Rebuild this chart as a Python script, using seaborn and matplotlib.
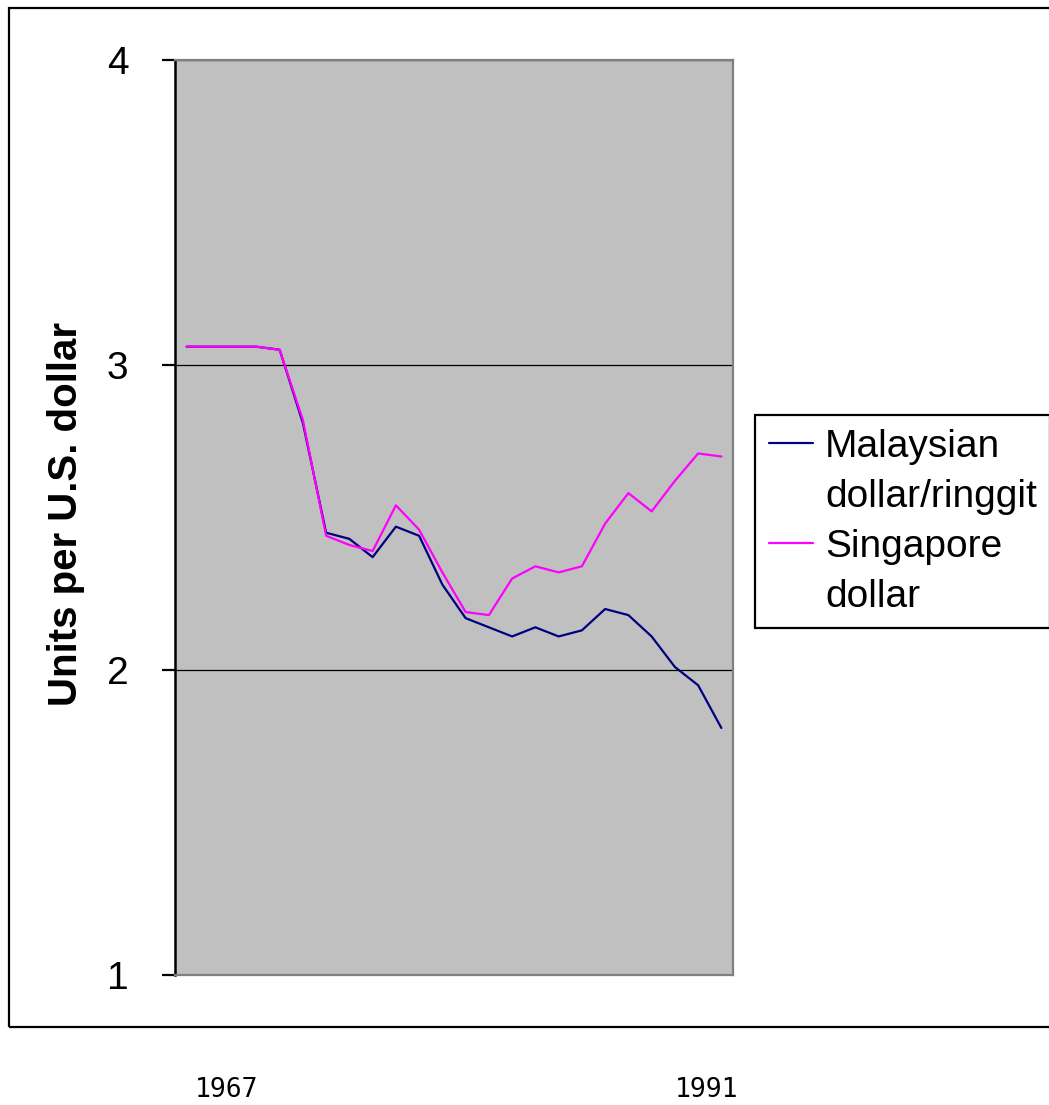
import matplotlib
matplotlib.use("Agg")
import matplotlib.pyplot as plt
import seaborn as sns
import pandas as pd
from matplotlib.lines import Line2D
from matplotlib.patches import Rectangle

# Exchange rates, units per U.S. dollar
years = list(range(1967, 1991))
malaysia = [3.06, 3.06, 3.06, 3.06, 3.05, 2.81, 2.45, 2.43, 2.37, 2.47, 2.44, 2.28,
            2.17, 2.14, 2.11, 2.14, 2.11, 2.13, 2.20, 2.18, 2.11, 2.01, 1.95, 1.81]
singapore = [3.06, 3.06, 3.06, 3.06, 3.05, 2.82, 2.44, 2.41, 2.39, 2.54, 2.46, 2.32,
             2.19, 2.18, 2.30, 2.34, 2.32, 2.34, 2.48, 2.58, 2.52, 2.62, 2.71, 2.70]
year_labels = ["1967", "1991"]
series_names = ["Malaysian dollar/ringgit", "Singapore dollar"]

df = pd.DataFrame({
    "idx": list(range(len(years))) * 2,
    "rate": malaysia + singapore,
    "series": [series_names[0]] * len(years) + [series_names[1]] * len(years),
})

sns.set_style("white")
plt.rcParams['font.family'] = ['Liberation Sans', 'DejaVu Sans']
plt.rcParams['text.color'] = 'black'
plt.rcParams['axes.labelcolor'] = 'black'
plt.rcParams['ytick.color'] = 'black'
plt.rcParams['ytick.labelcolor'] = 'black'

fig = plt.figure(figsize=(10.49, 11.05), dpi=100)
ax = fig.add_axes([175 / 1049, 1 - 975 / 1105, 558 / 1049, 915 / 1105])

navy = "#000080"
magenta = "#FF00FF"
sns.lineplot(data=df, x="idx", y="rate", hue="series", hue_order=series_names,
             palette={series_names[0]: navy, series_names[1]: magenta},
             linewidth=1.6, legend=False, ax=ax)

ax.set_facecolor("#C0C0C0")
ax.set_xlim(-0.5, len(years) - 0.5)
ax.set_ylim(1, 4)
ax.set_yticks([1, 2, 3, 4])
ax.set_xticks([])
ax.set_xlabel("")
ax.yaxis.grid(True, color="black", linewidth=0.9)
ax.set_axisbelow(True)

for side in ["top", "right", "bottom"]:
    ax.spines[side].set_color("#808080")
    ax.spines[side].set_linewidth(1.6)
ax.spines["left"].set_color("black")
ax.spines["left"].set_linewidth(1.8)

ax.tick_params(axis="y", direction="out", length=9.5, width=1.6, pad=24,
               labelsize=28, colors="black", left=True)

ax.set_ylabel("Units per U.S. dollar", fontsize=29, fontweight="bold", color="black")
ax.yaxis.label.set_va("center")
ax.yaxis.set_label_coords((66 - 175) / 558, (975 - 514) / 915)

# legend: each label on two lines, handle level with the first line
l1, l2 = ax.lines[0], ax.lines[1]
blank = Line2D([], [], color="none")
leg = fig.legend([l1, blank, l2, blank],
                 ["Malaysian", "dollar/ringgit", "Singapore", "dollar"],
                 loc="upper left", bbox_to_anchor=(755 / 1049, 1 - 415 / 1105),
                 fontsize=28, handlelength=1.15, handletextpad=0.3,
                 borderpad=0.35, labelspacing=0.36, borderaxespad=0,
                 fancybox=False, frameon=True, edgecolor="black", framealpha=1)
leg.get_frame().set_linewidth(1.6)
for t in leg.get_texts():
    t.set_color("black")

# outer chart frame (runs off the right edge)
fig.add_artist(Rectangle((9 / 1049, 1 - 1027 / 1105), 1.0, (1027 - 8) / 1105,
                         transform=fig.transFigure, fill=False,
                         edgecolor="black", linewidth=1.6))

# category labels below the frame
fig.text(227 / 1049, 1 - 1090 / 1105, year_labels[0], family="DejaVu Sans Mono",
         fontsize=19, ha="center", va="center", color="black")
fig.text(707 / 1049, 1 - 1090 / 1105, year_labels[1], family="DejaVu Sans Mono",
         fontsize=19, ha="center", va="center", color="black")

fig.savefig("out.png", dpi=100)
